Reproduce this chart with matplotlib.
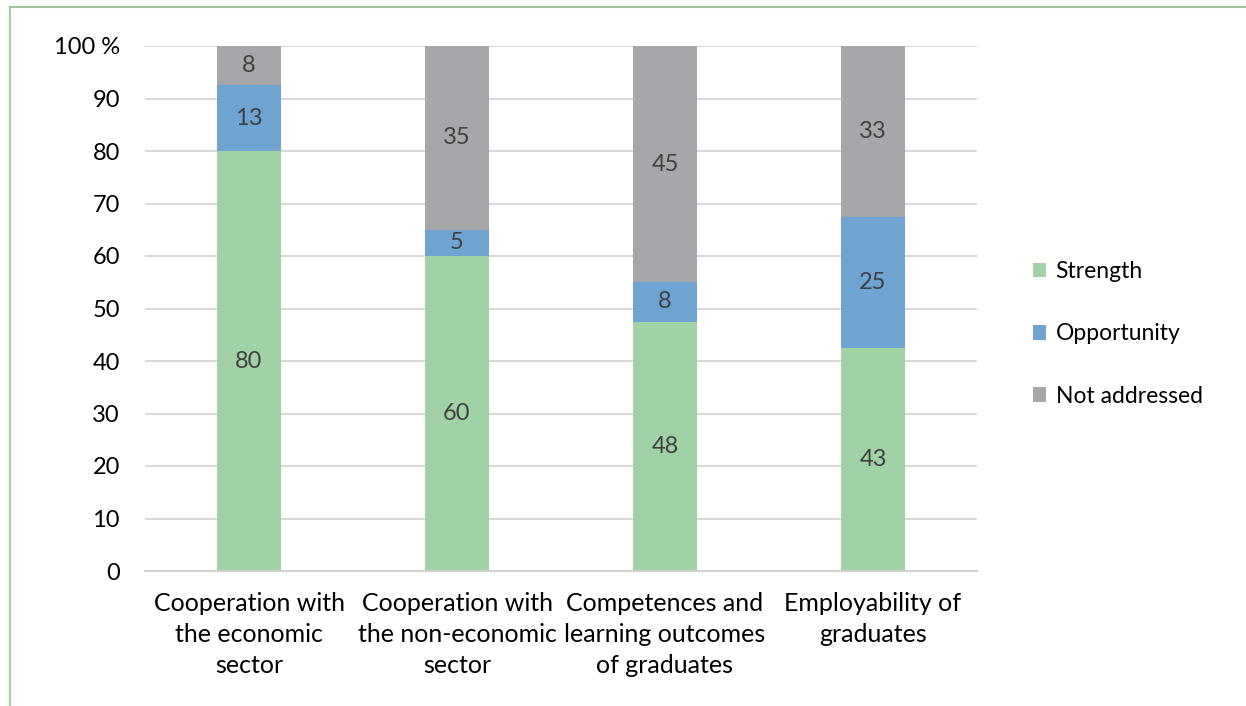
import math

import matplotlib
matplotlib.use('Agg')
import matplotlib.pyplot as plt
from matplotlib.lines import Line2D

plt.rcParams['font.family'] = ['Lato', 'DejaVu Sans']

categories = ['Cooperation with\nthe economic\nsector',
              'Cooperation with\nthe non-economic\nsector',
              'Competences and\nlearning outcomes\nof graduates',
              'Employability of\ngraduates']
strength = [80, 60, 47.5, 42.5]
opportunity = [12.5, 5, 7.5, 25]
not_addressed = [7.5, 35, 45, 32.5]

series = [('Strength', strength, '#a0d2a6'),
          ('Opportunity', opportunity, '#6fa3d2'),
          ('Not addressed', not_addressed, '#a5a7aa')]

fig = plt.figure(figsize=(12.46, 7.06), dpi=100)
ax = fig.add_axes([145 / 1246, 1 - 571 / 706, 832 / 1246, 525 / 706])

x = list(range(len(categories)))
bottom = [0] * len(categories)
for name, vals, color in series:
    bars = ax.bar(x, vals, bottom=bottom, width=0.31, color=color, label=name, zorder=2)
    for b, v, y0 in zip(bars, vals, bottom):
        ax.text(b.get_x() + b.get_width() / 2, y0 + v / 2, str(math.floor(v + 0.5)),
                ha='center', va='center', fontsize=17, color='#404040', zorder=3)
    bottom = [b + v for b, v in zip(bottom, vals)]

ax.set_xlim(-0.5, 3.5)
ax.set_ylim(0, 100)
ax.set_yticks(range(0, 101, 10))
ax.set_yticklabels([str(t) for t in range(0, 100, 10)] + ['100 %'])
ax.set_xticks(x)
ax.set_xticklabels(categories, fontsize=18, linespacing=1.42)
ax.grid(True, axis='y', color='#d9d9d9', lw=1.5, zorder=0)
ax.set_axisbelow(True)
for s in ['top', 'right', 'left']:
    ax.spines[s].set_visible(False)
ax.spines['bottom'].set_color('#d0d0d0')
ax.spines['bottom'].set_linewidth(1.5)
ax.tick_params(axis='both', length=0, colors='black')
ax.tick_params(axis='y', pad=18, labelsize=17)
ax.tick_params(axis='x', pad=15)

ax.legend(loc='center left', bbox_to_anchor=(1012 / 1246, 1 - 334 / 706),
          bbox_transform=fig.transFigure, frameon=False, fontsize=16.5,
          handlelength=0.6, handleheight=0.6, handletextpad=0.4, labelspacing=1.8)

# thin green frame at left and top of the figure
fig.add_artist(Line2D([10 / 1246, 10 / 1246], [0, 1 - 7 / 706], color='#9fd49f', lw=1.5))
fig.add_artist(Line2D([10 / 1246, 1], [1 - 7 / 706, 1 - 7 / 706], color='#9fc49f', lw=1.5))

fig.savefig('out.png', dpi=100)
